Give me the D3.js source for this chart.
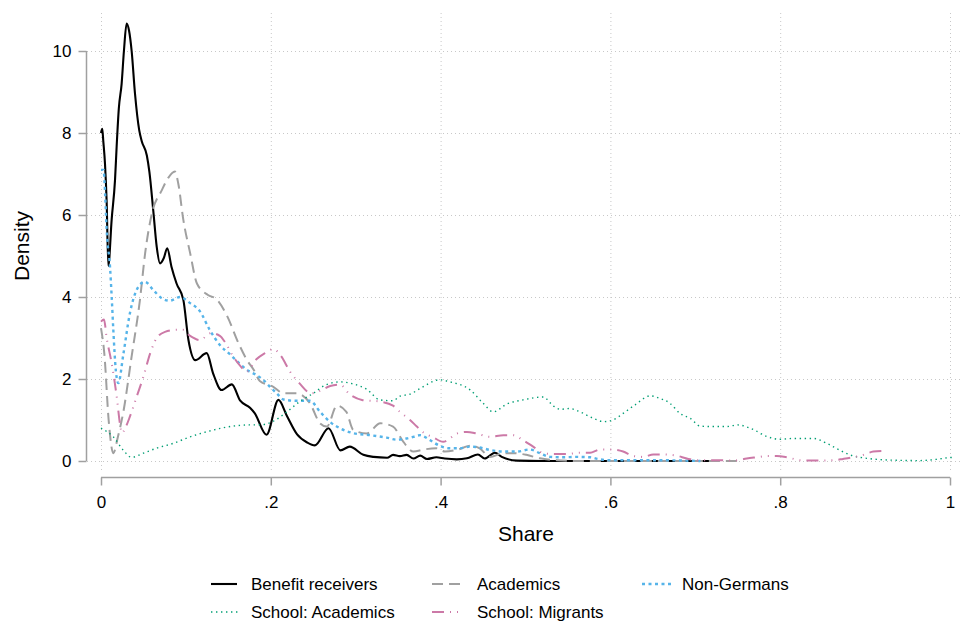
<!DOCTYPE html>
<html>
<head>
<meta charset="utf-8">
<script src="https://cdn.jsdelivr.net/npm/d3@7"></script>
<style>
  body { margin: 0; background: #fff; }
  text { font-family: "Liberation Sans", Arial, sans-serif; fill: #000; }
</style>
</head>
<body>
<script>
// Kernel density estimates: [share, density]
const benefit = [[0,8.0],[0.0015,8.1],[0.0027,7.8],[0.0047,7.25],[0.0067,6.3],[0.0086,4.76],[0.0126,5.9],[0.0165,6.85],
  [0.0185,7.7],[0.021,8.6],[0.0243,9.2],[0.027,10.0],[0.0302,10.67],[0.033,10.5],[0.0361,10.0],[0.04,8.97],[0.045,8.07],
  [0.048,7.8],[0.054,7.45],[0.057,7.05],[0.0616,6.1],[0.0656,5.23],[0.0695,4.82],[0.074,4.95],[0.078,5.19],[0.083,4.74],
  [0.089,4.33],[0.097,3.93],[0.103,2.95],[0.111,2.46],[0.1245,2.63],[0.132,2.14],[0.142,1.73],[0.154,1.87],[0.164,1.47],
  [0.1755,1.3],[0.181,1.17],[0.195,0.64],[0.209,1.49],[0.219,1.1],[0.231,0.65],[0.243,0.45],[0.252,0.38],[0.268,0.8],
  [0.282,0.26],[0.293,0.35],[0.309,0.15],[0.321,0.1],[0.337,0.08],[0.344,0.15],[0.352,0.12],[0.36,0.15],[0.368,0.06],
  [0.376,0.13],[0.384,0.05],[0.395,0.09],[0.405,0.06],[0.419,0.04],[0.431,0.065],[0.444,0.16],[0.452,0.06],[0.464,0.2],
  [0.472,0.1],[0.49,0.01],[0.52,0],[0.6,0],[0.718,0]];
const academics = [[0,3.24],[0.004,2.6],[0.009,1.0],[0.0145,0.19],[0.02,0.6],[0.026,1.16],[0.036,2.54],[0.046,3.95],
  [0.052,5.07],[0.06,6.04],[0.0715,6.6],[0.079,6.9],[0.087,7.06],[0.091,6.77],[0.097,5.88],[0.105,5.07],[0.113,4.33],
  [0.126,4.05],[0.136,3.95],[0.148,3.56],[0.162,2.87],[0.172,2.46],[0.18,2.22],[0.187,1.95],[0.203,1.81],[0.215,1.65],
  [0.23,1.65],[0.246,1.41],[0.258,0.92],[0.266,0.84],[0.278,1.35],[0.289,1.2],[0.297,0.76],[0.313,0.67],[0.329,0.92],
  [0.344,0.84],[0.356,0.47],[0.368,0.23],[0.38,0.28],[0.395,0.31],[0.405,0.23],[0.419,0.27],[0.435,0.37],[0.446,0.31],
  [0.458,0.1],[0.474,0.19],[0.486,0.19],[0.501,0.15],[0.517,0.065],[0.537,0.02],[0.56,0],[0.75,0]];
const nonGermans = [[0,7.1],[0.003,7.1],[0.005,6.45],[0.0067,5.63],[0.0106,4.74],[0.0126,4.0],[0.0145,3.2],[0.0175,2.2],
  [0.0204,1.9],[0.0263,2.6],[0.034,3.6],[0.044,4.25],[0.0518,4.37],[0.0616,4.17],[0.0715,3.97],[0.081,3.91],[0.093,4.0],
  [0.105,3.85],[0.1166,3.65],[0.128,3.2],[0.14,2.83],[0.152,2.6],[0.164,2.36],[0.1735,2.2],[0.183,2.1],[0.191,1.98],
  [0.199,1.81],[0.207,1.65],[0.215,1.5],[0.228,1.47],[0.246,1.47],[0.258,1.2],[0.27,0.95],[0.2815,0.8],[0.297,0.68],
  [0.317,0.63],[0.3365,0.57],[0.348,0.52],[0.36,0.55],[0.368,0.59],[0.376,0.63],[0.3875,0.51],[0.399,0.37],[0.411,0.31],
  [0.423,0.31],[0.435,0.35],[0.446,0.33],[0.458,0.27],[0.474,0.23],[0.49,0.23],[0.505,0.28],[0.517,0.19],[0.529,0.1],
  [0.545,0.09],[0.56,0.1],[0.576,0.09],[0.585,0.05],[0.6,0.02],[0.65,0.02],[0.706,0]];
const schoolAcademics = [[0,0.8],[0.0145,0.59],[0.026,0.27],[0.036,0.09],[0.05,0.19],[0.065,0.31],[0.085,0.43],[0.105,0.59],
  [0.124,0.71],[0.144,0.81],[0.164,0.87],[0.1755,0.88],[0.187,0.88],[0.203,0.97],[0.219,1.2],[0.234,1.45],[0.25,1.65],
  [0.264,1.85],[0.2815,1.93],[0.297,1.88],[0.313,1.75],[0.3286,1.49],[0.344,1.47],[0.352,1.58],[0.364,1.63],[0.376,1.77],
  [0.399,1.98],[0.411,1.93],[0.435,1.73],[0.45,1.41],[0.462,1.2],[0.478,1.39],[0.497,1.49],[0.521,1.56],[0.533,1.34],
  [0.541,1.26],[0.552,1.28],[0.564,1.2],[0.58,1.04],[0.592,0.96],[0.603,1.0],[0.615,1.16],[0.629,1.37],[0.647,1.59],
  [0.658,1.53],[0.67,1.41],[0.682,1.16],[0.694,1.04],[0.706,0.85],[0.721,0.84],[0.737,0.84],[0.75,0.88],[0.768,0.77],
  [0.784,0.6],[0.8,0.53],[0.815,0.55],[0.839,0.55],[0.855,0.43],[0.866,0.31],[0.882,0.15],[0.902,0.065],[0.933,0.02],
  [0.965,0.01],[0.984,0.04],[0.998,0.08],[1.005,0.09]];
const schoolMigrants = [[0,3.4],[0.0035,3.45],[0.0067,3.0],[0.0126,2.38],[0.0185,1.57],[0.0224,0.9],[0.0247,0.68],[0.028,0.78],
  [0.034,1.08],[0.042,1.57],[0.05,2.06],[0.058,2.63],[0.0656,3.0],[0.0754,3.15],[0.089,3.2],[0.0966,3.2],[0.105,3.05],
  [0.1166,2.95],[0.1296,3.12],[0.14,3.05],[0.146,2.9],[0.156,2.54],[0.164,2.32],[0.1716,2.18],[0.183,2.48],[0.193,2.63],
  [0.203,2.73],[0.212,2.56],[0.2226,2.18],[0.2344,1.88],[0.2473,1.65],[0.258,1.71],[0.27,1.83],[0.2815,1.86],[0.2933,1.62],
  [0.3074,1.49],[0.3286,1.45],[0.344,1.35],[0.352,1.2],[0.364,1.0],[0.372,0.84],[0.38,0.69],[0.391,0.58],[0.403,0.47],
  [0.411,0.55],[0.419,0.67],[0.431,0.71],[0.4425,0.67],[0.458,0.59],[0.474,0.63],[0.4856,0.63],[0.497,0.51],[0.509,0.35],
  [0.521,0.19],[0.533,0.17],[0.5485,0.17],[0.564,0.2],[0.576,0.2],[0.5877,0.28],[0.6015,0.28],[0.615,0.23],[0.627,0.12],
  [0.639,0.1],[0.6505,0.16],[0.662,0.16],[0.678,0.13],[0.69,0.06],[0.7016,0.02],[0.729,0.02],[0.745,0.01],[0.7605,0.06],
  [0.772,0.09],[0.784,0.12],[0.796,0.12],[0.808,0.09],[0.8233,0.02],[0.835,0.01],[0.8626,0.02],[0.874,0.05],[0.886,0.09],
  [0.898,0.15],[0.9097,0.23],[0.9234,0.25]];

// Axis ticks and labels
const xTicks = [0, 0.2, 0.4, 0.6, 0.8, 1];
const xTickLabels = ["0", ".2", ".4", ".6", ".8", "1"];
const yTicks = [0, 2, 4, 6, 8, 10];

// Series: name, data, look (order = drawing order)
const seriesNames = ["Benefit receivers", "Academics", "Non-Germans", "School: Academics", "School: Migrants"];
const seriesData = [benefit, academics, nonGermans, schoolAcademics, schoolMigrants];
const seriesStyle = [
  { color: "#000000", width: 2.1, dash: null },
  { color: "#a0a0a0", width: 2, dash: "11,6" },
  { color: "#56b4e9", width: 2.4, dash: "3,3.5" },
  { color: "#009e73", width: 1.4, dash: "1.4,3.6" },
  { color: "#cc79a7", width: 2, dash: "12,6,1,6,1,6" }
];

const WIDTH = 963, HEIGHT = 622;
// Plot region (where the grid lives)
const PLOT = { left: 87, right: 963, top: 13, bottom: 476 };

const svg = d3.select("body").append("svg")
  .attr("width", WIDTH)
  .attr("height", HEIGHT);
svg.append("rect").attr("width", WIDTH).attr("height", HEIGHT).attr("fill", "#fff");

const x = d3.scaleLinear().domain([0, 1]).range([101, 950]);
const y = d3.scaleLinear().domain([0, 10]).range([461, 51]);

// Grid, dotted light grey
const GRID = "#c8c8c8";
svg.append("g").selectAll("line.hgrid")
  .data(yTicks)
  .enter().append("line")
  .attr("x1", PLOT.left).attr("x2", PLOT.right)
  .attr("y1", d => y(d) + 0.5).attr("y2", d => y(d) + 0.5)
  .attr("stroke", GRID).attr("stroke-width", 1)
  .attr("stroke-dasharray", "1,3");
svg.append("g").selectAll("line.vgrid")
  .data(xTicks)
  .enter().append("line")
  .attr("x1", d => x(d) + 0.5).attr("x2", d => x(d) + 0.5)
  .attr("y1", PLOT.top).attr("y2", PLOT.bottom - 4)
  .attr("stroke", GRID).attr("stroke-width", 1)
  .attr("stroke-dasharray", "1,3");

// Axes
const AXIS = "#a0a0a0";
const yAxis = svg.append("g")
  .attr("transform", "translate(86.5,0)")
  .call(d3.axisLeft(y).tickValues(yTicks).tickSize(8).tickPadding(7).tickFormat(d3.format("d")));
const xAxis = svg.append("g")
  .attr("transform", "translate(0,477.5)")
  .call(d3.axisBottom(x).tickValues(xTicks).tickSize(8).tickPadding(10)
    .tickFormat((d, i) => xTickLabels[i]));
[xAxis, yAxis].forEach(a => {
  a.select(".domain").attr("stroke", AXIS).attr("stroke-width", 1.5);
  a.selectAll(".tick line").attr("stroke", AXIS).attr("stroke-width", 1.5);
  a.selectAll(".tick text")
    .attr("fill", "#000")
    .style("font-family", '"Liberation Sans", Arial, sans-serif')
    .style("font-size", "17px");
});
// Stata-like: domain without the outer tick stubs
yAxis.select(".domain").attr("d", "M0," + y(10) + "V" + y(0));
xAxis.select(".domain").attr("d", "M" + x(0) + ",0H" + x(1));

// Axis titles
svg.append("text")
  .attr("transform", "translate(29,246) rotate(-90)")
  .attr("text-anchor", "middle")
  .style("font-size", "21px")
  .text("Density");
svg.append("text")
  .attr("x", 526).attr("y", 541)
  .attr("text-anchor", "middle")
  .style("font-size", "21px")
  .text("Share");

// Density curves
const line = d3.line()
  .x(d => x(d[0]))
  .y(d => y(d[1]))
  .curve(d3.curveMonotoneX);
svg.append("g").selectAll("path.kd")
  .data(seriesData)
  .enter().append("path")
  .attr("d", line)
  .attr("fill", "none")
  .attr("stroke", (d, i) => seriesStyle[i].color)
  .attr("stroke-width", (d, i) => seriesStyle[i].width)
  .attr("stroke-dasharray", (d, i) => seriesStyle[i].dash)
  .attr("stroke-linejoin", "round");

// Legend: 3 columns, 2 rows
const LEG_COLS = [211, 432, 642];
const LEG_ROWS = [584, 612];
const legend = svg.append("g").selectAll("g.leg")
  .data(seriesNames)
  .enter().append("g")
  .attr("transform", (d, i) => "translate(" + LEG_COLS[i % 3] + "," + LEG_ROWS[Math.floor(i / 3)] + ")");
legend.append("line")
  .attr("x1", 0).attr("x2", (d, i) => i === 0 ? 26 : 30)
  .attr("stroke", (d, i) => seriesStyle[i].color)
  .attr("stroke-width", (d, i) => seriesStyle[i].width)
  .attr("stroke-dasharray", (d, i) => seriesStyle[i].dash);
legend.append("text")
  .attr("x", (d, i) => [40, 45, 40][i % 3])
  .attr("y", 6)
  .style("font-size", "17px")
  .text(d => d);
</script>
</body>
</html>
